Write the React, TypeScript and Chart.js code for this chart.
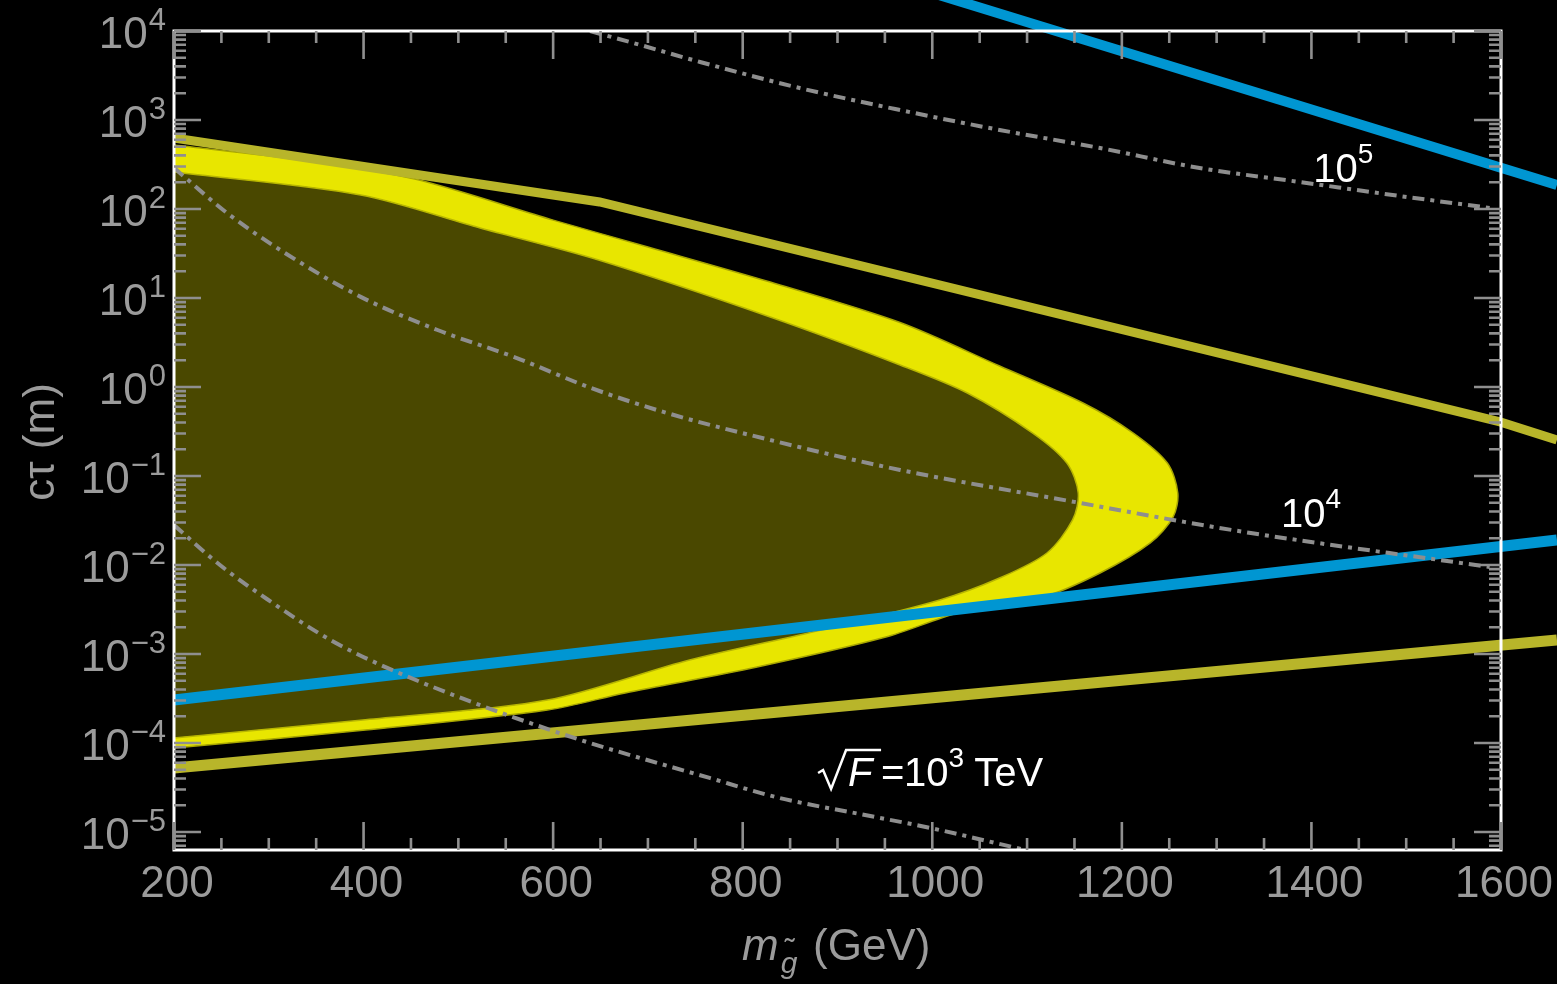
import React, { useEffect, useRef } from "react";
import { Chart, registerables } from "chart.js";

Chart.register(...registerables);

const W = 1557;
const H = 984;
const FONT = "'Liberation Sans', Arial, Helvetica, sans-serif";

// axes
const X_MIN = 200;
const X_MAX = 1600;
const Y_MIN = 6.28e-6;
const Y_MAX = 1e4;
const xTickLabels = [200, 400, 600, 800, 1000, 1200, 1400, 1600];
const xMinorStep = 50;
const yExponents = [-5, -4, -3, -2, -1, 0, 1, 2, 3, 4];

// yellow band: outer boundary (closed along left edge)
const bandOuterX = [200, 333, 454, 600, 700, 829, 966, 1071, 1159, 1212, 1248, 1259, 1254, 1230, 1177, 1117, 1027, 951, 814, 676, 594, 402, 200];
const bandOuterY = [524, 356, 217, 75, 37.4, 15.1, 5.3, 1.72, 0.661, 0.304, 0.14, 0.0644, 0.0346, 0.0177, 0.00813, 0.00437, 0.00289, 0.00155, 7.1e-4, 3.65e-4, 2.35e-4, 1.4e-4, 8.8e-5];

// excluded (olive) region: inner boundary
const bandInnerX = [200, 397, 523, 648, 829, 966, 1037, 1106, 1142, 1154, 1148, 1121, 1071, 1008, 883, 744, 594, 402, 200];
const bandInnerY = [261, 144, 61.2, 26.7, 6.12, 1.77, 0.857, 0.304, 0.14, 0.0644, 0.0321, 0.01365, 0.00714, 0.00405, 0.00186, 8.57e-4, 3.04e-4, 1.82e-4, 1.14e-4];

// thick olive lines
const oliveUpperX = [200, 649, 1599, 1659];
const oliveUpperY = [628, 120, 0.405, 0.254];
const oliveLowerX = [200, 1659];
const oliveLowerY = [5.24e-5, 1.44e-3];

// blue lines
const blueLowerX = [200, 1659];
const blueLowerY = [3.04e-4, 0.0191];
const blueUpperX = [966, 1659];
const blueUpperY = [34600, 186];

// dash-dot contours of sqrt(F)
const f5X = [639, 692, 755, 860, 966, 1071, 1177, 1282, 1388, 1493, 1588];
const f5Y = [1e4, 6966, 4487, 2290, 1294, 773, 484, 289, 201, 140, 103];
const f4X = [200, 256, 317, 397, 478, 559, 640, 720, 829, 966, 1156, 1254, 1336, 1588];
const f4Y = [290, 90.2, 32.1, 10.3, 4.37, 2.17, 0.975, 0.511, 0.254, 0.117, 0.0498, 0.0321, 0.0229, 0.0095];
const f3X = [200, 248.5, 298, 365, 435, 607, 765, 839, 924, 998, 1098];
const f3Y = [0.0281, 0.01, 0.00415, 0.00144, 6.28e-4, 1.29e-4, 4.05e-5, 2.41e-5, 1.59e-5, 1.11e-5, 6.28e-6];

// contour label anchors (data coords: left edge, baseline)
const lbl5 = { x: 1402, y: 201, exp: "5" };
const lbl4 = { x: 1368, y: 0.0267, exp: "4" };
const lbl3 = { x: 879.5, y: 3.29e-5, exp: "3" };

const BG = "#000000";
const TICK = "#8f8f8f";
const TICK_LABEL = "#9b9b9b";
const DASH = "#8e8e8e";
const OLIVE_LINE = "#b8b52a";
const BAND = "#e8e600";
const INNER = "#4a4800";
const BLUE = "#0096d2";

const pts = (xs: number[], ys: number[]) => xs.map((x, i) => ({ x, y: ys[i] }));

function drawPow(
  ctx: CanvasRenderingContext2D,
  base: string,
  exp: string,
  x: number,
  baseY: number,
  size: number,
  supSize: number,
  supRise: number,
  align: "left" | "right",
  gap: number
) {
  ctx.textAlign = "left";
  ctx.textBaseline = "alphabetic";
  ctx.font = `${size}px ${FONT}`;
  const wb = ctx.measureText(base).width;
  ctx.font = `${supSize}px ${FONT}`;
  const we = ctx.measureText(exp).width;
  const start = align === "right" ? x - wb - gap - we : x;
  ctx.font = `${size}px ${FONT}`;
  ctx.fillText(base, start, baseY);
  ctx.font = `${supSize}px ${FONT}`;
  ctx.fillText(exp, start + wb + gap, baseY - supRise);
  return start + wb + gap + we;
}

const framePlugin = {
  id: "frameAndLabels",
  beforeDraw(chart: any) {
    const ctx = chart.ctx;
    ctx.save();
    ctx.fillStyle = BG;
    ctx.fillRect(0, 0, chart.width, chart.height);
    ctx.restore();
  },
  afterDraw(chart: any) {
    const ctx: CanvasRenderingContext2D = chart.ctx;
    const { left, right, top, bottom } = chart.chartArea;
    const xs = chart.scales.x;
    const ys = chart.scales.y;
    ctx.save();

    // contour labels
    ctx.fillStyle = "#ffffff";
    drawPow(ctx, "10", lbl5.exp, xs.getPixelForValue(lbl5.x), ys.getPixelForValue(lbl5.y), 40, 28, 19, "left", 0);
    drawPow(ctx, "10", lbl4.exp, xs.getPixelForValue(lbl4.x), ys.getPixelForValue(lbl4.y), 40, 28, 19, "left", 0);
    {
      const ax = xs.getPixelForValue(lbl3.x);
      const ay = ys.getPixelForValue(lbl3.y);
      ctx.strokeStyle = "#ffffff";
      ctx.lineWidth = 2.5;
      ctx.lineJoin = "miter";
      ctx.beginPath();
      ctx.moveTo(ax, ay - 13);
      ctx.lineTo(ax + 5, ay - 16);
      ctx.lineTo(ax + 13, ay + 3);
      ctx.lineTo(ax + 28, ay - 36);
      ctx.lineTo(ax + 63, ay - 36);
      ctx.stroke();
      ctx.font = `italic 40px ${FONT}`;
      ctx.textAlign = "left";
      ctx.textBaseline = "alphabetic";
      ctx.fillText("F", ax + 30, ay);
      ctx.font = `40px ${FONT}`;
      ctx.fillText("=", ax + 63, ay);
      const end = drawPow(ctx, "10", lbl3.exp, ax + 86, ay, 40, 28, 19, "left", 0);
      ctx.font = `40px ${FONT}`;
      ctx.fillText("TeV", end + 10, ay);
    }

    // frame
    ctx.strokeStyle = "#ffffff";
    ctx.lineWidth = 3;
    ctx.strokeRect(left, top, right - left, bottom - top);

    // ticks
    ctx.strokeStyle = TICK;
    ctx.lineWidth = 2.6;
    ctx.lineCap = "butt";
    for (let v = X_MIN; v <= X_MAX; v += xMinorStep) {
      const px = xs.getPixelForValue(v);
      const major = xTickLabels.includes(v);
      const len = major ? 28 : 12;
      ctx.beginPath();
      ctx.moveTo(px, bottom);
      ctx.lineTo(px, bottom - len);
      ctx.moveTo(px, top);
      ctx.lineTo(px, top + len);
      ctx.stroke();
    }
    for (let d = -6; d <= 4; d++) {
      for (let k = 1; k <= 9; k++) {
        const v = k * Math.pow(10, d);
        if (v < Y_MIN * 0.999 || v > Y_MAX * 1.001) continue;
        const py = ys.getPixelForValue(v);
        const len = k === 1 ? 27 : 12;
        ctx.beginPath();
        ctx.moveTo(left, py);
        ctx.lineTo(left + len, py);
        ctx.moveTo(right, py);
        ctx.lineTo(right - len, py);
        ctx.stroke();
      }
    }

    // tick labels
    ctx.fillStyle = TICK_LABEL;
    ctx.font = `44px ${FONT}`;
    ctx.textAlign = "center";
    ctx.textBaseline = "alphabetic";
    for (const v of xTickLabels) {
      ctx.fillText(String(v), xs.getPixelForValue(v) + 3, bottom + 47);
    }
    for (const e of yExponents) {
      const py = ys.getPixelForValue(Math.pow(10, e));
      const expStr = e < 0 ? "\u2212" + Math.abs(e) : String(e);
      drawPow(ctx, "10", expStr, 166, py + 17, 44, 31, 18, "right", 1);
    }

    // axis titles
    ctx.fillStyle = TICK_LABEL;
    ctx.textBaseline = "alphabetic";
    ctx.textAlign = "left";
    const tx = 742;
    const tb = 960;
    ctx.font = `italic 44px ${FONT}`;
    ctx.fillText("m", tx, tb);
    const wm = ctx.measureText("m").width;
    ctx.font = `italic 30px ${FONT}`;
    ctx.fillText("g", tx + wm + 2, tb + 13);
    ctx.font = `30px ${FONT}`;
    ctx.fillText("\u02DC", tx + wm + 6, tb - 1);
    ctx.font = `44px ${FONT}`;
    ctx.fillText("(GeV)", tx + 71, tb);

    ctx.translate(54, 442);
    ctx.rotate(-Math.PI / 2);
    ctx.textAlign = "center";
    ctx.font = `44px ${FONT}`;
    ctx.fillText("c\u03C4 (m)", 0, 0);

    ctx.restore();
  },
};

export default function App() {
  const ref = useRef<HTMLCanvasElement | null>(null);

  useEffect(() => {
    if (!ref.current) return;
    const dash = [12, 6, 4, 6];
    const chart = new Chart(ref.current, {
      type: "line",
      data: {
        datasets: [
          {
            label: "band",
            data: pts(bandOuterX, bandOuterY),
            borderColor: "#a8a600",
            borderWidth: 1.5,
            backgroundColor: BAND,
            fill: "shape",
            tension: 0.3,
            pointRadius: 0,
            order: 10,
          },
          {
            label: "excluded",
            data: pts(bandInnerX, bandInnerY),
            borderColor: "#b8b600",
            borderWidth: 1.5,
            backgroundColor: INNER,
            fill: "shape",
            tension: 0.3,
            pointRadius: 0,
            order: 9,
          },
          {
            label: "olive upper",
            data: pts(oliveUpperX, oliveUpperY),
            borderColor: OLIVE_LINE,
            borderWidth: 9,
            fill: false,
            pointRadius: 0,
            clip: false,
            order: 6,
          },
          {
            label: "olive lower",
            data: pts(oliveLowerX, oliveLowerY),
            borderColor: OLIVE_LINE,
            borderWidth: 11,
            fill: false,
            pointRadius: 0,
            clip: false,
            order: 6,
          },
          {
            label: "blue lower",
            data: pts(blueLowerX, blueLowerY),
            borderColor: BLUE,
            borderWidth: 11,
            fill: false,
            pointRadius: 0,
            clip: false,
            order: 5,
          },
          {
            label: "blue upper",
            data: pts(blueUpperX, blueUpperY),
            borderColor: BLUE,
            borderWidth: 10,
            fill: false,
            pointRadius: 0,
            clip: false,
            order: 5,
          },
          {
            label: "F 1e5",
            data: pts(f5X, f5Y),
            borderColor: DASH,
            borderWidth: 4,
            borderDash: dash,
            fill: false,
            pointRadius: 0,
            cubicInterpolationMode: "monotone",
            order: 3,
          },
          {
            label: "F 1e4",
            data: pts(f4X, f4Y),
            borderColor: DASH,
            borderWidth: 4,
            borderDash: dash,
            fill: false,
            pointRadius: 0,
            cubicInterpolationMode: "monotone",
            order: 3,
          },
          {
            label: "F 1e3",
            data: pts(f3X, f3Y),
            borderColor: DASH,
            borderWidth: 4,
            borderDash: dash,
            fill: false,
            pointRadius: 0,
            cubicInterpolationMode: "monotone",
            order: 3,
          },
        ],
      },
      options: {
        animation: false,
        responsive: false,
        devicePixelRatio: 1,
        events: [],
        layout: { padding: { left: 174, right: 56, top: 31, bottom: 134 } },
        scales: {
          x: { type: "linear", min: X_MIN, max: X_MAX, display: false },
          y: { type: "logarithmic", min: Y_MIN, max: Y_MAX, display: false },
        },
        plugins: {
          legend: { display: false },
          tooltip: { enabled: false },
        },
      },
      plugins: [framePlugin],
    } as any);
    return () => chart.destroy();
  }, []);

  return (
    <div style={{ position: "fixed", left: 0, top: 0, width: W, height: H, background: BG }}>
      <canvas ref={ref} width={W} height={H} style={{ display: "block", width: W, height: H }} />
    </div>
  );
}
